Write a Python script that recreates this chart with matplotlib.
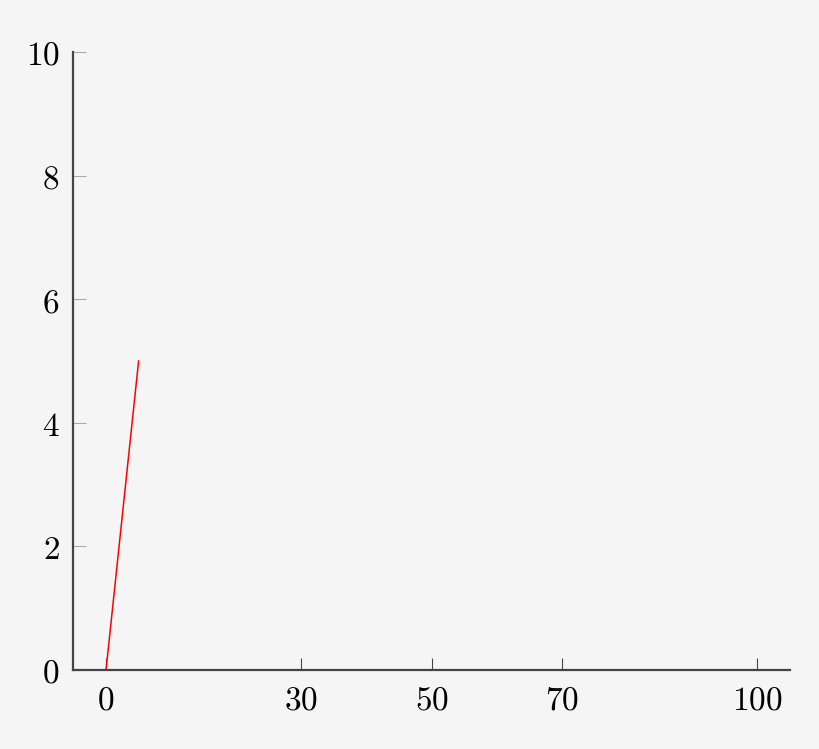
import matplotlib
matplotlib.use("Agg")
from matplotlib import pyplot as plt

plt.rcParams['mathtext.fontset'] = 'cm'

# данные
line_x = [0, 5]
line_y = [0, 5]
x_ticks = [0, 30, 50, 70, 100]
y_ticks = [0, 2, 4, 6, 8, 10]

bg = '#f5f5f5'
fig = plt.figure(figsize=(8.2, 7.49), dpi=100, facecolor=bg)
ax = fig.add_axes([0.0896, 0.1055, 0.9634 - 0.0896, 0.9306 - 0.1055], facecolor=bg)

ax.plot(line_x, line_y, color='#ff0000', linewidth=1.1)

ax.set_xlim(-5, 105)
ax.set_ylim(0, 10)

ax.set_xticks(x_ticks, labels=[f'${t}$' for t in x_ticks])
ax.set_yticks(y_ticks, labels=[f'${t}$' for t in y_ticks])

# оси
for side in ['top', 'right']:
    ax.spines[side].set_visible(False)
for side in ['left', 'bottom']:
    ax.spines[side].set_linewidth(1.6)
    ax.spines[side].set_color('#444444')

ax.tick_params(axis='x', direction='in', length=9, width=0.8, color='#444444',
               labelsize=24, pad=10)
ax.tick_params(axis='y', direction='in', length=9, width=0.8, color='#aaaaaa',
               labelsize=24, pad=10)

fig.savefig('out.png', facecolor=bg)
